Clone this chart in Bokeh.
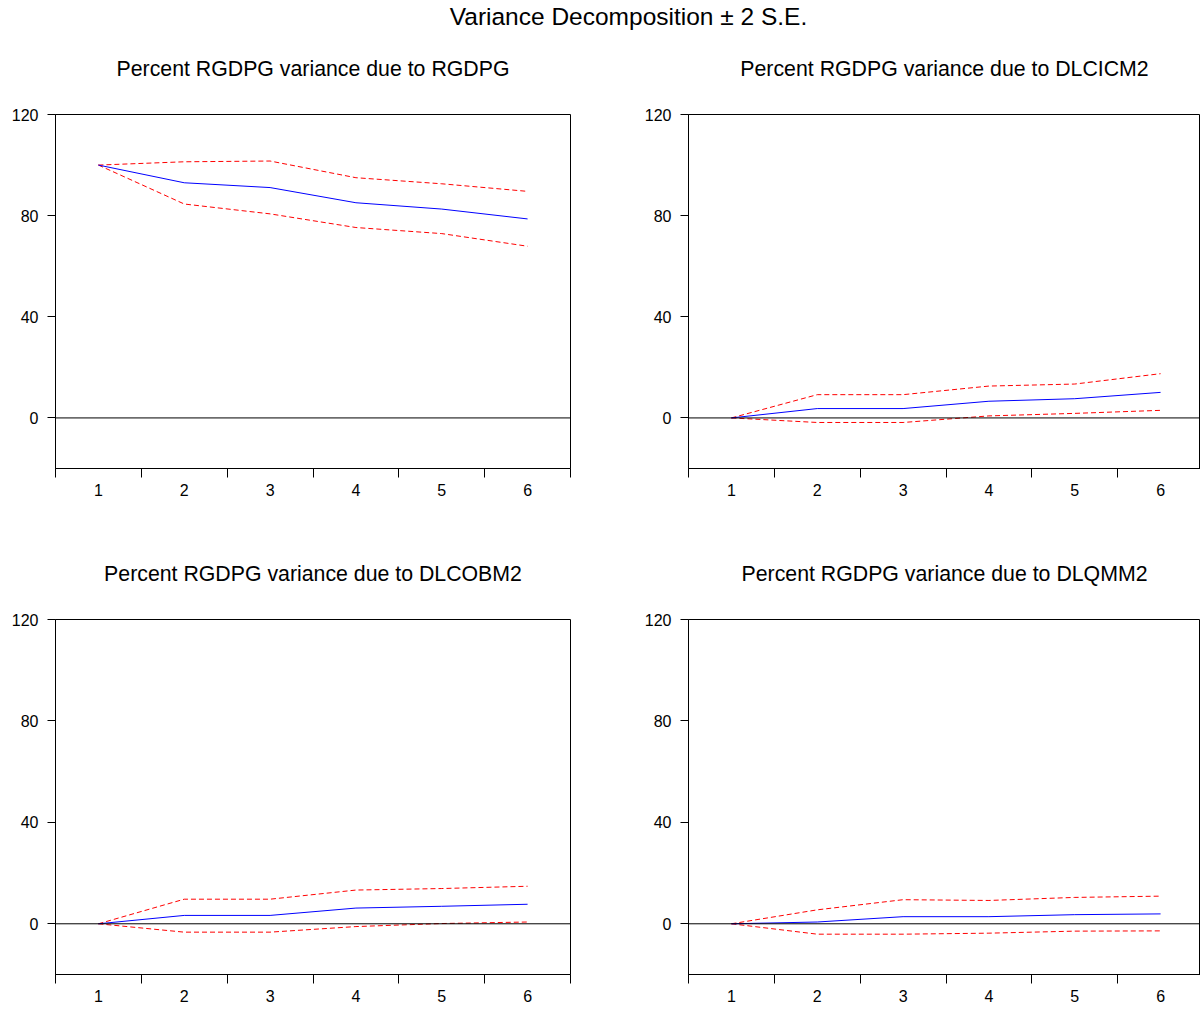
from bokeh.plotting import figure
from bokeh.layouts import column, row
from bokeh.models import FixedTicker, Span, Title, Range1d
from bokeh.embed import file_html
from bokeh.resources import INLINE

periods = [1, 2, 3, 4, 5, 6]

# Percent RGDPG variance due to RGDPG
rgdpg_mid = [100.0, 93.0, 91.1, 85.1, 82.6, 78.7]
rgdpg_up = [100.0, 101.3, 101.6, 95.0, 92.6, 89.6]
rgdpg_lo = [100.0, 84.6, 80.7, 75.3, 72.9, 67.9]

# Percent RGDPG variance due to DLCICM2
dlcicm2_mid = [0.0, 3.7, 3.7, 6.6, 7.6, 10.1]
dlcicm2_up = [0.0, 9.2, 9.2, 12.6, 13.4, 17.5]
dlcicm2_lo = [0.0, -1.8, -1.8, 0.8, 1.8, 3.0]

# Percent RGDPG variance due to DLCOBM2
dlcobm2_mid = [0.0, 3.3, 3.3, 6.2, 6.9, 7.7]
dlcobm2_up = [0.0, 9.7, 9.7, 13.3, 13.9, 14.8]
dlcobm2_lo = [0.0, -3.3, -3.3, -1.1, 0.1, 0.7]

# Percent RGDPG variance due to DLQMM2
dlqmm2_mid = [0.0, 0.7, 2.8, 2.8, 3.6, 3.9]
dlqmm2_up = [0.0, 5.5, 9.5, 9.2, 10.4, 10.9]
dlqmm2_lo = [0.0, -4.1, -4.1, -3.7, -2.9, -2.8]

y_ticks = [0, 40, 80, 120]
x_minor = [0.5, 1.5, 2.5, 3.5, 4.5, 5.5, 6.5]

main_title = "Variance Decomposition \u00b1 2 S.E."
titles = [
    "Percent RGDPG variance due to RGDPG",
    "Percent RGDPG variance due to DLCICM2",
    "Percent RGDPG variance due to DLCOBM2",
    "Percent RGDPG variance due to DLQMM2",
]

FONT = "Liberation Sans"


def panel(title, mid, up, lo, width, height, top, bottom, left, right, x_end):
    p = figure(width=width, height=height, output_backend="svg", toolbar_location=None,
               x_range=Range1d(0.5, x_end), y_range=Range1d(-20, 120),
               min_border_left=left, min_border_right=right,
               min_border_top=top, min_border_bottom=bottom)
    # blank spacer between the frame and the panel title
    p.add_layout(Title(text=" ", text_font_size="1px", standoff=20), "above")
    t = Title(text=title, align="center", text_font=FONT, text_font_size="21.3px",
              text_font_style="normal", text_color="black", standoff=21)
    p.add_layout(t, "above")
    p.background_fill_color = "white"
    p.border_fill_color = "white"
    p.outline_line_color = "black"
    p.outline_line_width = 1
    p.outline_line_alpha = 1
    p.grid.visible = False

    p.xaxis.ticker = FixedTicker(ticks=periods, minor_ticks=x_minor)
    p.xaxis.major_tick_out = 0
    p.xaxis.major_tick_in = 0
    p.xaxis.minor_tick_out = 9
    p.xaxis.minor_tick_in = 0
    p.xaxis.minor_tick_line_color = "black"
    p.xaxis.major_label_standoff = 6
    p.yaxis.ticker = FixedTicker(ticks=y_ticks)
    p.yaxis.major_tick_out = 8
    p.yaxis.major_tick_in = 0
    p.yaxis.minor_tick_line_color = None
    p.yaxis.major_label_standoff = 9
    for ax in (p.xaxis, p.yaxis):
        ax.axis_line_color = "black"
        ax.major_tick_line_color = "black"
        ax.major_label_text_font = FONT
        ax.major_label_text_font_size = "16px"
        ax.major_label_text_color = "black"

    p.add_layout(Span(location=0, dimension="width", line_color="black", line_width=1))
    p.line(periods, up, line_color="#FF0000", line_width=1, line_dash="5 3")
    p.line(periods, lo, line_color="#FF0000", line_width=1, line_dash="5 3")
    p.line(periods, mid, line_color="#0000FF", line_width=1)
    return p


unit = 515 / 6.0
x_end_right = 0.5 + 512 / unit

p1 = panel(titles[0], rgdpg_mid, rgdpg_up, rgdpg_lo, 641, 505, 84, 67, 55, 71, 6.5)
p2 = panel(titles[1], dlcicm2_mid, dlcicm2_up, dlcicm2_lo, 559, 505, 84, 67, 47, 0, x_end_right)
p3 = panel(titles[2], dlcobm2_mid, dlcobm2_up, dlcobm2_lo, 641, 474, 84, 35, 55, 71, 6.5)
p4 = panel(titles[3], dlqmm2_mid, dlqmm2_up, dlqmm2_lo, 559, 474, 84, 35, 47, 0, x_end_right)

head = figure(width=1200, height=30, output_backend="svg", toolbar_location=None,
              x_axis_location=None, y_axis_location=None,
              min_border_left=56, min_border_right=0, min_border_top=0, min_border_bottom=0)
head.add_layout(Title(text=main_title, align="center", text_font=FONT, text_font_size="24.5px",
                      text_font_style="normal", text_color="black", standoff=0), "above")
head.grid.visible = False
head.outline_line_color = None
head.background_fill_color = "white"
head.border_fill_color = "white"

layout = column(head, row(p1, p2), row(p3, p4))

open("out.html", "w").write(file_html(layout, INLINE))
